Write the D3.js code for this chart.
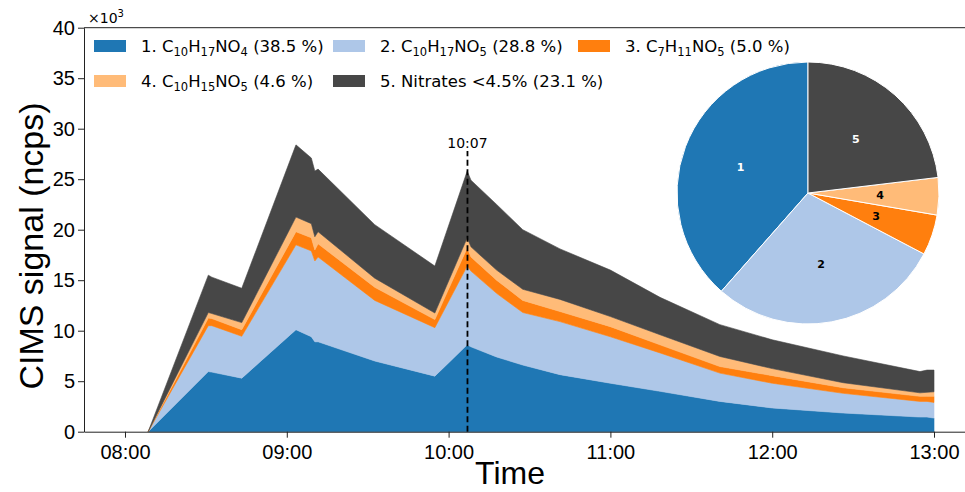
<!DOCTYPE html>
<html lang="en">
<head>
<meta charset="UTF-8">
<title>CIMS signal</title>
<style>
  body { margin: 0; background: #fff; }
  .tick text { font-family: "Liberation Sans", Arial, sans-serif; font-size: 20px; fill: #000; }
  .tick line, .domain { stroke: #222; }
</style>
</head>
<body>
<svg id="chart"></svg>
<script src="https://cdn.jsdelivr.net/npm/d3@7"></script>
<script>
// Data (signal in 10^3 ncps)
var times = ["08:08:36", "08:30:54", "08:32:12", "08:43:18", "09:03:24", "09:09:06", "09:10:24",
  "09:11:36", "09:32:36", "09:54:54", "10:06:54", "10:08:18", "10:17:48", "10:27:30", "10:41:18", "11:00:00",
  "11:18:24", "11:40:36", "12:00:00", "12:26:18", "12:54:48", "12:57:24", "13:00:00"];
var c10h17no4 = [0, 5.95, 5.9, 5.3, 10.1, 9.4, 8.9, 8.9, 7.0, 5.5, 8.6, 8.4, 7.4, 6.6, 5.65, 4.8, 4.0, 3.0, 2.35, 1.85, 1.45, 1.45, 1.35];
var c10h17no5 = [0, 4.55, 4.6, 4.15, 8.4, 8.5, 8.0, 8.4, 6.0, 4.8, 7.8, 7.5, 6.3, 5.2, 5.25, 4.6, 3.8, 2.8, 2.45, 1.95, 1.55, 1.55, 1.55];
var c7h11no5 = [0, 0.75, 0.7, 0.65, 1.3, 1.3, 1.1, 1.3, 1.3, 0.8, 1.8, 1.4, 1.3, 1.2, 1.0, 1.0, 0.8, 0.65, 0.75, 0.55, 0.5, 0.5, 0.6];
var c10h15no5 = [0, 0.55, 0.5, 0.7, 1.45, 1.4, 1.3, 1.2, 0.9, 0.65, 1.0, 1.0, 1.0, 1.1, 1.2, 1.0, 1.0, 1.0, 0.7, 0.5, 0.35, 0.4, 0.45];
var nitrates = [0, 3.7, 3.6, 3.4, 7.15, 6.5, 6.5, 6.2, 5.3, 4.65, 6.6, 6.6, 6.5, 5.9, 5.0, 4.6, 3.7, 3.15, 2.85, 2.65, 2.1, 2.2, 2.15];

var legendLabels = ["1. C_{10}H_{17}NO_{4} (38.5 %)", "2. C_{10}H_{17}NO_{5} (28.8 %)", "3. C_{7}H_{11}NO_{5} (5.0 %)",
  "4. C_{10}H_{15}NO_{5} (4.6 %)", "5. Nitrates <4.5% (23.1 %)"];
var pieValues = [38.5, 28.8, 5.0, 4.6, 23.1];
var pieLabels = ["1", "2", "3", "4", "5"];
var xTicks = ["08:00", "09:00", "10:00", "11:00", "12:00", "13:00"];
var yTicks = [0, 5, 10, 15, 20, 25, 30, 35, 40];
var markTime = "10:07";

var colors = ["#1f77b4", "#aec7e8", "#ff7f0e", "#ffbb78", "#474747"];
var pieText = ["#fff", "#000", "#000", "#000", "#fff"];

var width = 965, height = 492;
var svg = d3.select("#chart").attr("width", width).attr("height", height);

var parse = d3.timeParse("%H:%M:%S");
var parseHM = d3.timeParse("%H:%M");
var keys = ["s1", "s2", "s3", "s4", "s5"];
var series = [c10h17no4, c10h17no5, c7h11no5, c10h15no5, nitrates];
var rows = times.map(function (t, i) {
  var r = { time: parse(t) };
  keys.forEach(function (k, j) { r[k] = series[j][i]; });
  return r;
});

// scales: 08:00 -> 125px, 13:00 -> 934px
var x = d3.scaleTime()
  .domain([parse("07:44:48"), parse("13:15:12")])
  .range([84, 975]);
var y = d3.scaleLinear().domain([0, 40]).range([431.7, 27.7]);

var stacked = d3.stack().keys(keys)(rows);
var area = d3.area()
  .x(function (d) { return x(d.data.time); })
  .y0(function (d) { return y(d[0]); })
  .y1(function (d) { return y(d[1]); });

svg.append("g").selectAll("path")
  .data(stacked)
  .enter().append("path")
  .attr("d", area)
  .attr("fill", function (d, i) { return colors[i]; })
  .attr("stroke", function (d, i) { return colors[i]; })
  .attr("stroke-width", 0.6);

// dashed marker at 10:07
var mx = x(parseHM(markTime));
svg.append("line")
  .attr("x1", mx).attr("x2", mx)
  .attr("y1", y(0)).attr("y2", 151)
  .attr("stroke", "#000")
  .attr("stroke-width", 1.8)
  .attr("stroke-dasharray", "6,3.5");
svg.append("text")
  .attr("x", mx).attr("y", 148)
  .attr("text-anchor", "middle")
  .style("font-family", "DejaVu Sans, sans-serif")
  .style("font-size", "14px")
  .text(markTime);

// axes
svg.append("g")
  .attr("transform", "translate(0," + y(0) + ")")
  .call(d3.axisBottom(x)
    .tickValues(xTicks.map(function (t) { return parseHM(t); }))
    .tickFormat(d3.timeFormat("%H:%M"))
    .tickSize(6).tickPadding(7).tickSizeOuter(0));

svg.append("g")
  .attr("transform", "translate(84,0)")
  .call(d3.axisLeft(y).tickValues(yTicks).tickSize(6).tickPadding(3).tickSizeOuter(0));

svg.append("line")
  .attr("x1", 84).attr("x2", 975)
  .attr("y1", y(40)).attr("y2", y(40))
  .attr("stroke", "#222");

// x10^3 multiplier
var mult = svg.append("text")
  .attr("x", 88).attr("y", 23)
  .style("font-family", "DejaVu Sans, sans-serif")
  .style("font-size", "14px");
mult.append("tspan").text("\u00d710");
mult.append("tspan").attr("dy", -6).style("font-size", "10px").text("3");

// axis titles
svg.append("text")
  .attr("transform", "translate(43,246) rotate(-90)")
  .attr("text-anchor", "middle")
  .style("font-family", "Liberation Sans, Arial, sans-serif")
  .style("font-size", "34px")
  .text("CIMS signal (ncps)");
svg.append("text")
  .attr("x", 510).attr("y", 484)
  .attr("text-anchor", "middle")
  .style("font-family", "Liberation Sans, Arial, sans-serif")
  .style("font-size", "32px")
  .text("Time");

// legend
var legPos = [[94, 46], [333, 46], [578, 46], [94, 81], [333, 81]];
var leg = svg.append("g");
legendLabels.forEach(function (lab, i) {
  var g = leg.append("g").attr("transform", "translate(" + legPos[i][0] + "," + legPos[i][1] + ")");
  g.append("rect")
    .attr("x", 0).attr("y", -6).attr("width", 32).attr("height", 12)
    .attr("fill", colors[i]);
  var t = g.append("text")
    .attr("x", 47).attr("y", 6)
    .style("font-family", "DejaVu Sans, sans-serif")
    .style("font-size", "16.5px");
  var parts = lab.split(/(_\{[^}]*\})/);
  var shifted = false;
  parts.forEach(function (p) {
    if (!p) return;
    if (p.charAt(0) === "_") {
      t.append("tspan").attr("dy", shifted ? 0 : 4).style("font-size", "11.5px").text(p.slice(2, -1));
      shifted = true;
    } else {
      t.append("tspan").attr("dy", shifted ? -4 : 0).text(p);
      shifted = false;
    }
  });
});

// pie inset
var pie = d3.pie().sort(null).startAngle(0).endAngle(-2 * Math.PI);
var arcs = pie(pieValues);
var r = 131;
var arc = d3.arc().innerRadius(0).outerRadius(r);
var labelArc = d3.arc().innerRadius(72).outerRadius(72);
var pg = svg.append("g").attr("transform", "translate(808,193)");
pg.selectAll("path")
  .data(arcs)
  .enter().append("path")
  .attr("d", arc)
  .attr("fill", function (d, i) { return colors[i]; })
  .attr("stroke", "#fff")
  .attr("stroke-width", 1);
pg.selectAll("text")
  .data(arcs)
  .enter().append("text")
  .attr("transform", function (d) { return "translate(" + labelArc.centroid(d) + ")"; })
  .attr("text-anchor", "middle")
  .attr("dy", "0.35em")
  .style("font-family", "DejaVu Sans, sans-serif")
  .style("font-size", "11px")
  .style("font-weight", "bold")
  .attr("fill", function (d, i) { return pieText[i]; })
  .text(function (d, i) { return pieLabels[i]; });
</script>
</body>
</html>
